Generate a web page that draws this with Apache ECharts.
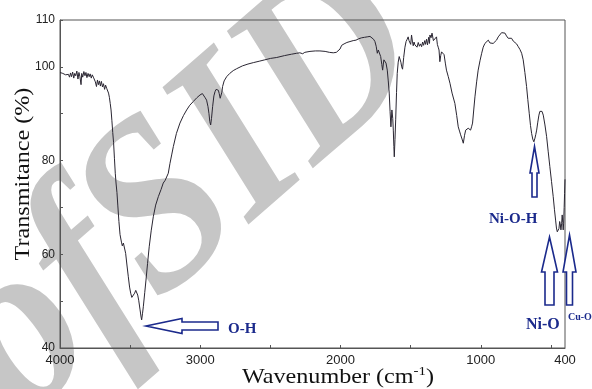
<!DOCTYPE html>
<html>
<head>
<meta charset="utf-8">
<script src="https://cdn.jsdelivr.net/npm/echarts@6/dist/echarts.min.js"></script>
<style>
  html, body { margin: 0; padding: 0; background: #fff; }
  #chart { width: 592px; height: 389px; }
</style>
</head>
<body>
<div id="chart"></div>
<script>
// FTIR spectrum: wavenumber (cm-1) against transmittance (%)
const wavenumber = [
  4000,3990,3980,3970,3960,3950,3940,3932,3925,3918,3910,3902,3895,3888,3880,3872,3865,3858,3850,3845,
  3838,3830,3822,3815,3808,3800,3792,3785,3777,3770,3762,3755,3748,3740,3733,3726,3719,3712,3705,3697,
  3690,3682,3675,3667,3660,3654,3648,3642,3636,3630,3624,3618,3612,3606,3600,3594,3588,3580,3572,3562,
  3556,3548,3542,3532,3522,3513,3504,3496,3488,3482,3474,3468,3460,3453,3446,3439,3430,3422,3418,3412,
  3406,3396,3387,3376,3364,3350,3335,3318,3299,3280,3264,3250,3240,3228,3216,3204,3192,3170,3145,3120,
  3097,3075,3050,3025,3002,2985,2975,2965,2955,2945,2938,2932,2926,2920,2912,2903,2895,2887,2879,2871,
  2865,2858,2852,2846,2841,2830,2812,2790,2765,2741,2700,2660,2622,2580,2540,2500,2455,2400,2350,2313,
  2290,2270,2255,2218,2180,2147,2110,2080,2052,2030,2016,2004,1992,1975,1955,1933,1910,1890,1870,1860,
  1850,1840,1830,1820,1810,1800,1790,1778,1765,1755,1746,1738,1731,1724,1714,1706,1700,1695,1691,1684,
  1676,1667,1660,1653,1647,1641,1634,1628,1624,1620,1617,1612,1607,1601,1596,1589,1582,1576,1570,1564,
  1558,1550,1541,1533,1525,1518,1512,1506,1500,1494,1488,1482,1476,1470,1462,1455,1446,1438,1430,1422,
  1415,1408,1400,1394,1387,1380,1372,1366,1363,1355,1348,1344,1338,1331,1324,1316,1310,1304,1298,1292,
  1286,1280,1272,1262,1253,1245,1232,1220,1205,1185,1172,1161,1152,1144,1134,1125,1116,1108,1099,1090,
  1082,1073,1066,1059,1050,1042,1030,1019,1006,994,983,971,959,947,935,924,912,900,888,876,
  864,852,840,828,817,805,793,781,769,757,745,733,721,709,698,686,674,665,655,646,
  638,630,622,614,608,602,594,586,579,572,564,555,543,531,520,508,496,484,475,467,
  461,455,449,443,438,434,429,424,420,416,413,410,406,403,400
];
const transmittance = [
  98.8,98.7,98.6,98.5,98.3,98.2,98.4,97.8,98.7,97.9,98.9,97.6,98.6,98.1,99.1,97.4,98.8,97.9,96.2,98.6,
  97.8,99.0,98.1,98.8,97.7,98.6,97.9,98.5,97.6,98.3,97.8,98.1,96.8,95.8,97.2,96.2,97.0,95.9,96.9,95.7,
  96.4,95.2,96.1,95.4,95.0,94.4,93.5,92.2,90.8,88.5,86.0,83.8,80.5,77.3,75.0,73.2,70.5,67.0,64.2,62.6,
  61.8,62.4,62.2,60.2,57.5,55.2,53.0,51.7,50.8,50.6,51.2,51.7,52.3,52.4,51.3,50.2,48.3,46.6,46.0,47.3,
  48.8,51.8,54.5,58.0,61.6,65.0,68.0,70.5,72.3,73.8,75.2,75.8,76.2,77.3,79.4,81.2,83.0,85.8,88.0,89.6,
  90.8,91.8,92.6,93.4,94.0,94.3,94.1,93.4,92.9,91.5,90.0,88.3,87.6,89.0,91.5,93.8,94.7,95.2,95.4,95.0,
  94.3,93.3,92.9,94.6,95.8,97.0,97.9,98.6,99.2,99.6,100.2,100.6,100.9,101.2,101.5,101.8,102.0,102.4,102.7,102.9,
  103.0,102.8,103.1,103.3,103.4,103.4,103.3,103.1,103.0,103.1,103.3,103.8,104.6,104.9,105.2,105.4,105.6,105.7,106.0,105.8,
  106.2,105.9,106.3,106.0,106.4,106.1,106.5,106.3,105.9,105.4,104.4,102.9,103.6,103.5,102.2,100.5,99.3,100.6,101.5,101.2,
  100.8,99.3,97.0,94.4,90.5,87.2,90.8,89.0,86.5,83.0,80.8,84.5,88.7,94.5,98.6,101.0,102.2,101.8,101.0,100.0,
  99.5,102.0,104.2,105.4,105.9,106.4,105.6,105.8,104.8,106.8,105.5,104.5,105.3,104.7,105.0,104.2,105.2,104.4,104.9,104.3,
  105.3,104.6,105.6,104.8,105.9,104.7,106.3,105.0,106.8,106.2,107.2,107.0,105.6,105.9,105.2,106.4,104.8,104.2,103.6,101.1,
  102.4,103.2,102.8,102.6,100.8,99.3,97.9,96.5,94.4,92.2,89.6,87.2,86.3,85.5,84.6,83.7,85.4,86.5,86.8,86.9,
  86.6,86.5,87.2,88.0,91.0,93.6,96.8,99.3,101.3,102.9,104.2,105.0,105.4,105.7,105.1,105.4,105.0,105.4,105.7,106.4,
  106.8,107.3,107.0,107.2,106.6,106.1,106.3,106.1,105.5,105.4,104.9,104.3,103.7,102.9,101.5,98.8,95.8,93.0,90.1,87.5,
  85.8,84.6,84.0,84.8,85.6,86.5,88.2,89.7,90.5,90.9,90.5,89.7,87.6,85.1,82.0,78.7,75.5,72.3,69.5,67.3,
  65.6,64.8,65.0,65.5,67.0,66.5,65.2,66.5,68.4,66.8,65.2,66.5,70.0,73.0,76.0
];

// axis ticks and labels
const xTickValues = [4000, 3500, 3000, 2500, 2000, 1500, 1000, 500];
const xLabelValues = [4000, 3000, 2000, 1000, 400];
const yTickValues = [40, 50, 60, 70, 80, 90, 100, 110];
const yLabelValues = [40, 60, 80, 100, 110];

// band assignments
const bandLabels = ['O-H', 'Ni-O-H', 'Ni-O', 'Cu-O'];

const spectrum = wavenumber.map((w, i) => [w, transmittance[i]]);

const AXIS = '#555';
const NAVY = '#1b2a8c';
const serif = '"Liberation Serif", "Times New Roman", serif';

function arrowUp(tipX, tipY, headHalf, shaftHalf, headBase, bottom) {
  return [
    [tipX, tipY], [tipX + headHalf, headBase], [tipX + shaftHalf, headBase],
    [tipX + shaftHalf, bottom], [tipX - shaftHalf, bottom], [tipX - shaftHalf, headBase],
    [tipX - headHalf, headBase]
  ];
}
function arrowLeft(tipX, tipY, headHalf, shaftHalf, headBase, tail) {
  return [
    [tipX, tipY], [headBase, tipY - headHalf], [headBase, tipY - shaftHalf],
    [tail, tipY - shaftHalf], [tail, tipY + shaftHalf], [headBase, tipY + shaftHalf],
    [headBase, tipY + headHalf]
  ];
}
function outline(points) {
  return {
    type: 'polygon', z: 20,
    shape: { points: points },
    style: { fill: '#fff', stroke: NAVY, lineWidth: 1.6 }
  };
}
function label(text, x, y, size) {
  return {
    type: 'text', z: 20, x: x, y: y,
    style: {
      text: text, fill: NAVY, align: 'left', verticalAlign: 'middle',
      font: 'bold ' + size + 'px ' + serif
    }
  };
}

const chart = echarts.init(document.getElementById('chart'), null, { renderer: 'canvas' });
chart.setOption({
  animation: false,
  backgroundColor: '#fff',
  grid: {
    left: 60, right: 27, top: 20, bottom: 41,
    show: true, borderColor: AXIS, borderWidth: 1, backgroundColor: 'transparent'
  },
  xAxis: {
    type: 'value', inverse: true, min: 400, max: 4000,
    axisLine: { lineStyle: { color: AXIS, width: 1 } },
    axisTick: { inside: true, length: 3, customValues: xTickValues, lineStyle: { color: AXIS } },
    axisLabel: {
      customValues: xLabelValues, margin: 6, formatter: v => String(v),
      fontFamily: '"Liberation Sans", Arial, sans-serif', fontSize: 13, color: '#222'
    },
    splitLine: { show: false }
  },
  yAxis: {
    type: 'value', min: 40, max: 110,
    axisLine: { show: true, lineStyle: { color: AXIS, width: 1 } },
    axisTick: { show: true, inside: true, length: 3, customValues: yTickValues, lineStyle: { color: AXIS } },
    axisLabel: {
      customValues: yLabelValues, margin: 5, formatter: v => String(v),
      fontFamily: '"Liberation Sans", Arial, sans-serif', fontSize: 12, color: '#222'
    },
    splitLine: { show: false }
  },
  series: [{
    type: 'line', z: 10, data: spectrum, showSymbol: false, symbol: 'none',
    lineStyle: { color: '#2a2632', width: 1 }, clip: true
  }],
  graphic: [
    {
      type: 'text', z: -5, x: -20, y: 374, rotation: 41 * Math.PI / 180,
      scaleY: 1.12,
      style: {
        text: 'ofSID', fill: '#c6c6c6', align: 'left', verticalAlign: 'middle',
        font: 'italic bold 218px ' + serif
      }
    },
    {
      type: 'text', z: 20, x: 23, y: 174, rotation: Math.PI / 2, scaleX: 1.15,
      style: {
        text: 'Transmitance (%)', fill: '#111', align: 'center', verticalAlign: 'middle',
        font: '21px ' + serif
      }
    },
    {
      type: 'text', z: 20, x: 338, y: 377, scaleX: 1.15,
      style: {
        text: '{a|Wavenumber (cm}{s|-1}{a|)}', align: 'center', verticalAlign: 'middle',
        rich: {
          a: { fontFamily: serif, fontSize: 21, fill: '#111', color: '#111' },
          s: { fontFamily: serif, fontSize: 13, fill: '#111', color: '#111', verticalAlign: 'top', padding: [0, 0, 10, 0] }
        }
      }
    },
    outline(arrowLeft(146, 326, 7.5, 4, 182, 218)),
    label(bandLabels[0], 228, 329, 15),
    outline(arrowUp(534.5, 146.5, 4.5, 2.5, 173, 197)),
    label(bandLabels[1], 489, 219, 15),
    outline(arrowUp(549.5, 237, 8, 4.5, 272, 305)),
    label(bandLabels[2], 526, 325, 16),
    outline(arrowUp(569.5, 235, 6.5, 3, 272, 305)),
    label(bandLabels[3], 568, 317, 10)
  ]
});
</script>
</body>
</html>
